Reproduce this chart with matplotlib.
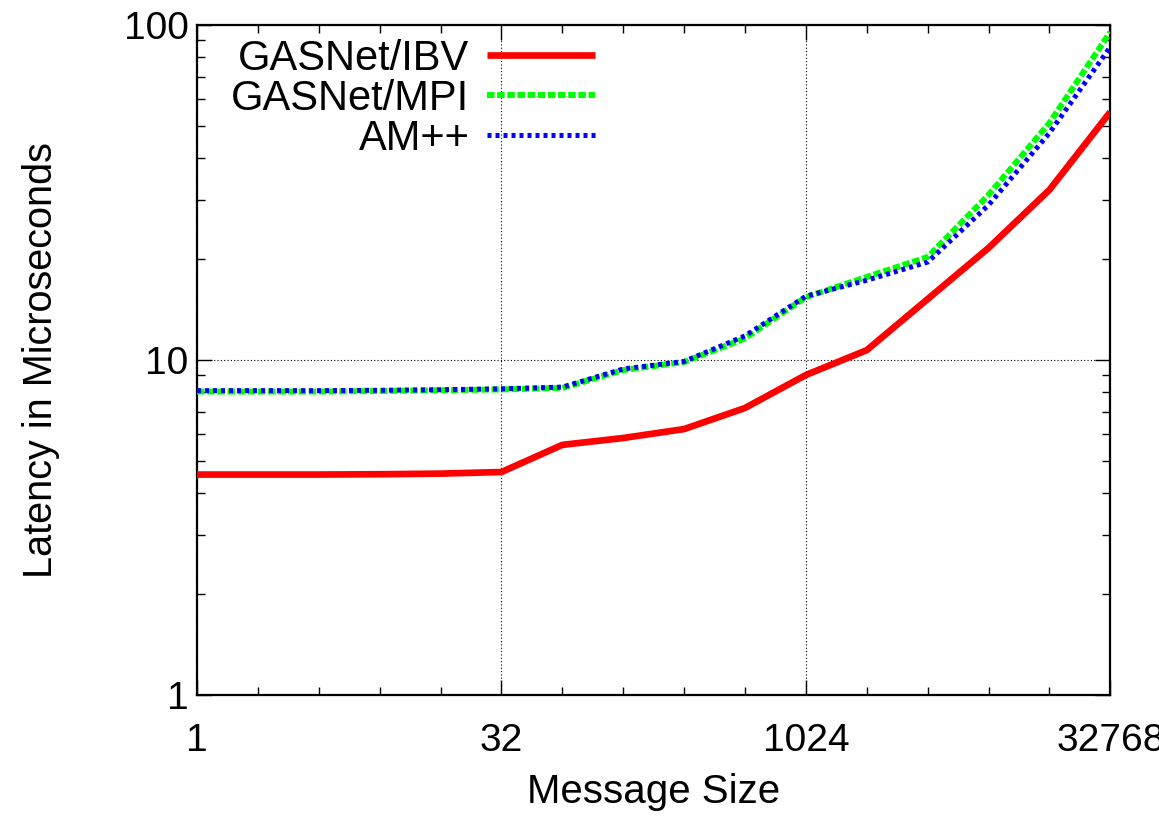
import matplotlib
matplotlib.use("Agg")
import matplotlib.pyplot as plt
from matplotlib.ticker import FixedLocator, NullFormatter

# message sizes (bytes) and latencies (microseconds)
sizes = [1, 2, 4, 8, 16, 32, 64, 128, 256, 512, 1024, 2048, 4096, 8192, 16384, 32768]
ibv = [4.55, 4.55, 4.55, 4.56, 4.58, 4.63, 5.58, 5.85, 6.22, 7.19, 9.02, 10.7, 15.2, 21.6, 32.2, 55.0]
mpi = [8.05, 8.05, 8.05, 8.08, 8.12, 8.17, 8.25, 9.33, 9.86, 11.6, 15.4, 17.7, 20.3, 31.1, 51.0, 95.3]
ampp = [8.1, 8.1, 8.1, 8.12, 8.15, 8.2, 8.3, 9.4, 9.9, 11.8, 15.5, 17.3, 19.6, 29.0, 47.6, 86.0]

xticks = [1, 32, 1024, 32768]
xticklabels = ["1", "32", "1024", "32768"]
yticks = [1, 10, 100]
yticklabels = ["1", "10", "100"]

plt.rcParams["font.family"] = ["Liberation Sans", "DejaVu Sans"]

fig = plt.figure(figsize=(11.59, 8.19), dpi=100)
ax = fig.add_axes([0.170, 0.1514, 0.788, 0.8181])

ax.plot(sizes, ibv, color="#ff0000", lw=4.8, solid_capstyle="butt", label="GASNet/IBV", zorder=3)
ax.plot(sizes, mpi, color="#00ff00", lw=4.3, dashes=(1.25, 0.45), dash_capstyle="butt", label="GASNet/MPI", zorder=4)
ax.plot(sizes, ampp, color="#0000ff", lw=3.6, dashes=(0.8, 0.8), dash_capstyle="butt", label="AM++", zorder=5)

ax.set_xscale("log", base=2)
ax.set_yscale("log")
ax.set_xlim(1, 32768)
ax.set_ylim(1, 100)

ax.xaxis.set_major_locator(FixedLocator(xticks))
ax.xaxis.set_minor_locator(FixedLocator([s for s in sizes if s not in xticks]))
ax.set_xticklabels(xticklabels)
ax.xaxis.set_minor_formatter(NullFormatter())
ax.yaxis.set_major_locator(FixedLocator(yticks))
ax.yaxis.set_minor_locator(FixedLocator([m * 10 ** d for d in range(2) for m in range(2, 10)]))
ax.set_yticklabels(yticklabels)
ax.yaxis.set_minor_formatter(NullFormatter())

ax.tick_params(which="both", direction="in", top=True, right=True, width=1.0, color="black")
ax.tick_params(which="major", length=11)
ax.tick_params(which="minor", length=6)
ax.tick_params(axis="x", which="major", pad=20, labelsize=28)
ax.tick_params(axis="y", which="major", pad=6, labelsize=28)

for s in ax.spines.values():
    s.set_linewidth(1.6)

ax.grid(True, which="major", color="black", linestyle=(0, (1, 2)), linewidth=0.8)

ax.set_xlabel("Message Size", fontsize=29, labelpad=10)
ax.set_ylabel("Latency in Microseconds", fontsize=28.5, labelpad=46)

ax.legend(loc="upper right", bbox_to_anchor=(0.452, 1.001), frameon=False, markerfirst=False,
          fontsize=30, handlelength=2.6, handletextpad=0.42, labelspacing=0.0,
          borderaxespad=0.1, borderpad=0.25)

fig.savefig("out.png", dpi=100)
